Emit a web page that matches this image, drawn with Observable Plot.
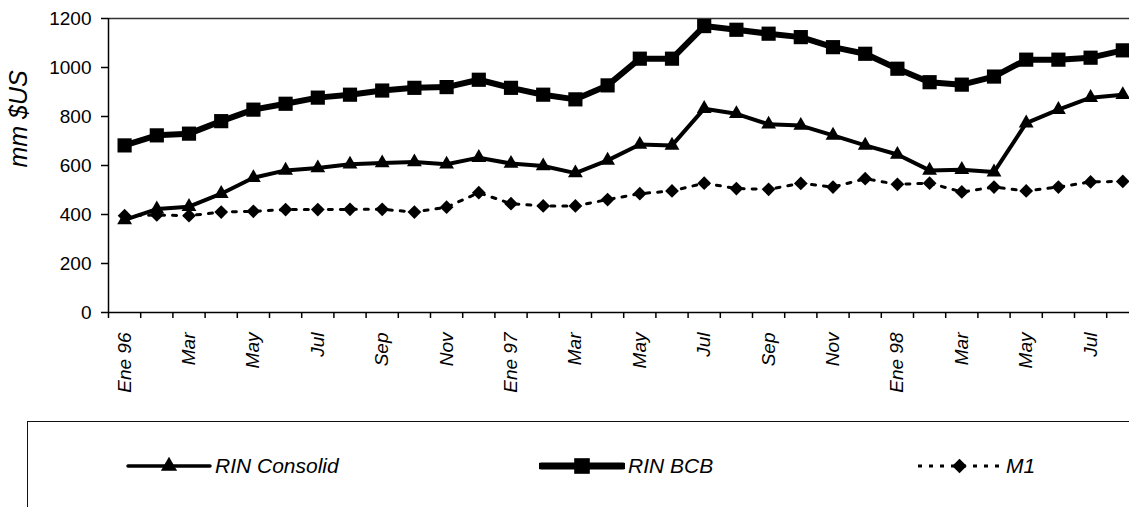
<!DOCTYPE html>
<html>
<head>
<meta charset="utf-8">
<script src="https://cdn.jsdelivr.net/npm/d3@7"></script>
<script src="https://cdn.jsdelivr.net/npm/@observablehq/plot@0.6"></script>
<style>
  html, body { margin: 0; padding: 0; background: #fff; overflow: hidden; }
  #wrap { position: relative; width: 1129px; height: 507px; overflow: hidden; font-family: "Liberation Sans", Arial, sans-serif; }
  #legend { position: absolute; left: 27px; top: 421px; width: 1200px; height: 120px; border-top: 1.5px solid #111; border-left: 1.5px solid #111; }
  .item { position: absolute; top: 32px; display: flex; align-items: center; font-style: italic; font-size: 21px; color: #000; }
  .item svg { display: block; margin-right: 3px; }
</style>
</head>
<body>
<div id="wrap">
  <div id="chart"></div>
  <div id="legend"></div>
</div>
<script>
// Months Ene 96 .. Ago 98
const months = ["Ene 96","Feb 96","Mar 96","Abr 96","May 96","Jun 96","Jul 96","Ago 96","Sep 96","Oct 96","Nov 96","Dic 96",
                "Ene 97","Feb 97","Mar 97","Abr 97","May 97","Jun 97","Jul 97","Ago 97","Sep 97","Oct 97","Nov 97","Dic 97",
                "Ene 98","Feb 98","Mar 98","Abr 98","May 98","Jun 98","Jul 98","Ago 98"];
const tickLabels = ["Ene 96","Mar","May","Jul","Sep","Nov","Ene 97","Mar","May","Jul","Sep","Nov","Ene 98","Mar","May","Jul"];
const rinConsolid = [378,422,432,485,550,580,590,605,610,614,605,632,
                     608,598,569,621,686,682,832,811,768,763,723,682,
                     645,580,583,573,773,828,877,889];
const rinBCB = [682,723,730,781,828,852,877,889,906,917,920,950,
                917,889,870,927,1036,1036,1169,1154,1138,1124,1083,1056,
                995,940,930,963,1032,1032,1040,1070];
const m1 = [395,398,395,410,413,420,420,421,421,410,430,489,
            444,435,435,461,485,496,528,506,503,527,512,546,
            523,528,492,512,496,512,533,535];
const yTicks = [0,200,400,600,800,1000,1200];
const seriesNames = ["RIN Consolid","RIN BCB","M1"];
const yTitle = "mm $US";

const table = months.map((m, i) => ({i, m, consolid: rinConsolid[i], bcb: rinBCB[i], m1: m1[i]}));
const boundaries = d3.range(months.length + 1).map(i => i - 0.5);
const labelData = tickLabels.map((t, k) => ({i: k * 2, t}));

const chart = Plot.plot({
  width: 1129,
  height: 420,
  marginLeft: 108,
  marginTop: 18,
  marginBottom: 108,
  marginRight: 0,
  style: {fontFamily: "'Liberation Sans', Arial, sans-serif", background: "#fff", color: "#000"},
  x: {type: "linear", domain: [-0.5, months.length - 0.5], range: [108, 108 + 32.2 * months.length], axis: null},
  y: {domain: [0, 1200], range: [312, 18], axis: null},
  marks: [
    Plot.ruleY([1200], {stroke: "#333", strokeWidth: 1.5}),
    Plot.axisY({ticks: yTicks, tickSize: 7, tickFormat: () => "", label: null, stroke: "#000", strokeWidth: 1.5}),
    Plot.text(yTicks, {x: -0.5, y: d => d, text: d => String(d), textAnchor: "end", dx: -17, fontSize: 19, fill: "#000"}),
    Plot.axisX({ticks: boundaries, tickSize: 6, tickFormat: () => "", label: null, stroke: "#000", strokeWidth: 1.5}),
    Plot.ruleX([-0.5], {y1: 0, y2: 1200, stroke: "#000", strokeWidth: 1.5}),
    Plot.ruleY([0], {stroke: "#000", strokeWidth: 1.5}),
    Plot.text(labelData, {x: "i", y: 0, text: "t", rotate: -90, textAnchor: "end", dy: 20, fontSize: 19, fontStyle: "italic", fill: "#000"}),
    Plot.text([yTitle], {frameAnchor: "left", dx: -90, dy: 2, rotate: -90, fontSize: 25, fontStyle: "italic", fill: "#000"}),
    // M1
    Plot.line(table, {x: "i", y: "m1", stroke: "#000", strokeWidth: 3, strokeDasharray: "4,8"}),
    Plot.dot(table, {x: "i", y: "m1", symbol: "diamond2", r: 6.2, fill: "#000", stroke: "none"}),
    // RIN Consolid
    Plot.line(table, {x: "i", y: "consolid", stroke: "#000", strokeWidth: 4, strokeLinejoin: "round"}),
    Plot.dot(table, {x: "i", y: "consolid", symbol: "triangle", r: 5.5, fill: "#000", stroke: "none"}),
    // RIN BCB
    Plot.line(table, {x: "i", y: "bcb", stroke: "#000", strokeWidth: 6, strokeLinejoin: "round"}),
    Plot.dot(table, {x: "i", y: "bcb", symbol: "square", r: 8, fill: "#000", stroke: "none"})
  ]
});
document.getElementById("chart").appendChild(chart);

// Legend
const legend = document.getElementById("legend");
const items = [
  {name: seriesNames[0], left: 98, w: 86, sw: 3.5, dash: null, sym: d3.symbolTriangle, size: Math.PI * 5.5 * 5.5 * 1.2},
  {name: seriesNames[1], left: 511, w: 86, sw: 7, dash: null, sym: d3.symbolSquare, size: Math.PI * 8.6 * 8.6 * 1.05},
  {name: seriesNames[2], left: 888, w: 87, sw: 3, dash: "4,7", sym: d3.symbolDiamond2, size: Math.PI * 6.5 * 6.5}
];
for (const it of items) {
  const div = document.createElement("div");
  div.className = "item";
  div.style.left = it.left + "px";
  const svg = d3.create("svg").attr("width", it.w).attr("height", 24);
  svg.append("line").attr("x1", 2).attr("x2", it.w - 2).attr("y1", 12).attr("y2", 12)
    .attr("stroke", "#000").attr("stroke-width", it.sw).attr("stroke-linecap", it.dash ? "butt" : "round")
    .attr("stroke-dasharray", it.dash);
  svg.append("path").attr("d", d3.symbol(it.sym, it.size)()).attr("transform", `translate(${it.w / 2},12)`).attr("fill", "#000");
  div.appendChild(svg.node());
  const span = document.createElement("span");
  span.textContent = it.name;
  div.appendChild(span);
  legend.appendChild(div);
}
</script>
</body>
</html>
